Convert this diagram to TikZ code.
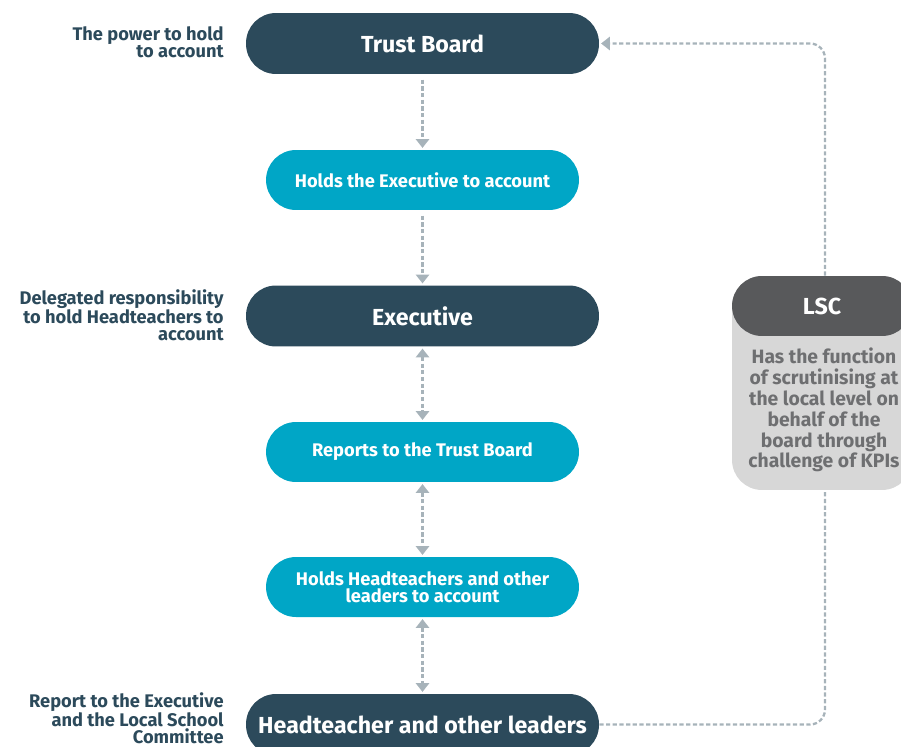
\documentclass[tikz,border=0pt]{standalone}
\usepackage{fontspec}
\setmainfont{Fira Sans}
\usepackage{xcolor}
\usepackage{tikz}
\usetikzlibrary{shapes, arrows.meta, positioning}

\definecolor{navy}{HTML}{2C4A5B}
\definecolor{cyan}{HTML}{00A6C6}
\definecolor{linegray}{HTML}{A7B3BA}
\definecolor{lscdark}{HTML}{58595B}
\definecolor{lsclight}{HTML}{D7D7D7}
\definecolor{lsctext}{HTML}{6E6F71}

\begin{document}
\begin{tikzpicture}[x=0.02cm, y=-0.02cm,
            box/.style={rectangle, rounded corners=0.6cm, fill=navy, text=white, minimum width=7.06cm, minimum height=1.22cm, font=\bfseries\fontsize{13.2}{14}\selectfont},
            subbox/.style={rectangle, rounded corners=0.6cm, fill=cyan, text=white, minimum width=6.26cm, minimum height=1.2cm, align=center, font=\bfseries\fontsize{10.4}{9.4}\selectfont},
            side/.style={anchor=east, align=right, text=navy, inner sep=0pt, font=\bfseries\fontsize{10.4}{9.4}\selectfont},
            link/.style={draw=linegray, line width=1.3pt, dash pattern=on 2.4pt off 1.4pt},
            tip/.style={-{Triangle[length=5pt, width=7.5pt]}},
            twotip/.style={{Triangle[length=5pt, width=7.5pt]}-{Triangle[length=5pt, width=7.5pt]}}]
            \useasboundingbox (0,0) rectangle (901,746);

            \node[box] (board) at (422.5,43.5) {Trust Board};
            \node[subbox] (holdexec) at (422.5,180) {Holds the Executive to account};
            \node[box] (exec) at (422.5,316) {Executive};
            \node[subbox] (reports) at (422.5,452) {Reports to the Trust Board};
            \node[subbox] (holdht) at (422.5,587) {Holds Headteachers and other\\leaders to account};
            \node[box] (ht) at (422.5,724.5) {Headteacher and other leaders};

            % left hand labels
            \node[side] (powerlbl) at (224,42) {The power to hold\\to account};
            \node[side] (execlbl) at (224,315) {Delegated responsibility\\to hold Headteachers to\\account};
            \node[side] (htlbl) at (224,718) {Report to the Executive\\and the Local School\\Committee};

            % LSC panel
            \node[rectangle, rounded corners=0.6cm, fill=lsclight, minimum width=3.6cm, minimum height=4.28cm] (lsc) at (822,383) {};
            \node[rectangle, rounded corners=0.6cm, fill=lscdark, text=white, minimum width=3.6cm, minimum height=1.2cm, font=\bfseries\fontsize{13.2}{14}\selectfont] (lschead) at (822,306) {LSC};
            \node[align=center, text=lsctext, font=\bfseries\fontsize{11}{11.9}\selectfont] (lscbody) at (824,410) {Has the function\\of scrutinising at\\the local level on\\behalf of the\\board through\\challenge of KPIs};

            \draw[link, tip, shorten <=3pt, shorten >=1pt] (board) -- (holdexec);
            \draw[link, tip, shorten <=3pt, shorten >=1pt] (holdexec) -- (exec);
            \draw[link, twotip, shorten <=1pt, shorten >=1pt] (exec) -- (reports);
            \draw[link, twotip, shorten <=1pt, shorten >=1pt] (reports) -- (holdht);
            \draw[link, twotip, shorten <=1pt, shorten >=1pt] (holdht) -- (ht);
            \draw[link, rounded corners=0.3cm] (ht.east) -| ([xshift=0.06cm]lsc.south);
            \draw[link, tip, rounded corners=0.3cm] ([xshift=0.06cm]lschead.north) |- ([xshift=1pt]board.east);
        \end{tikzpicture}
\end{document}
